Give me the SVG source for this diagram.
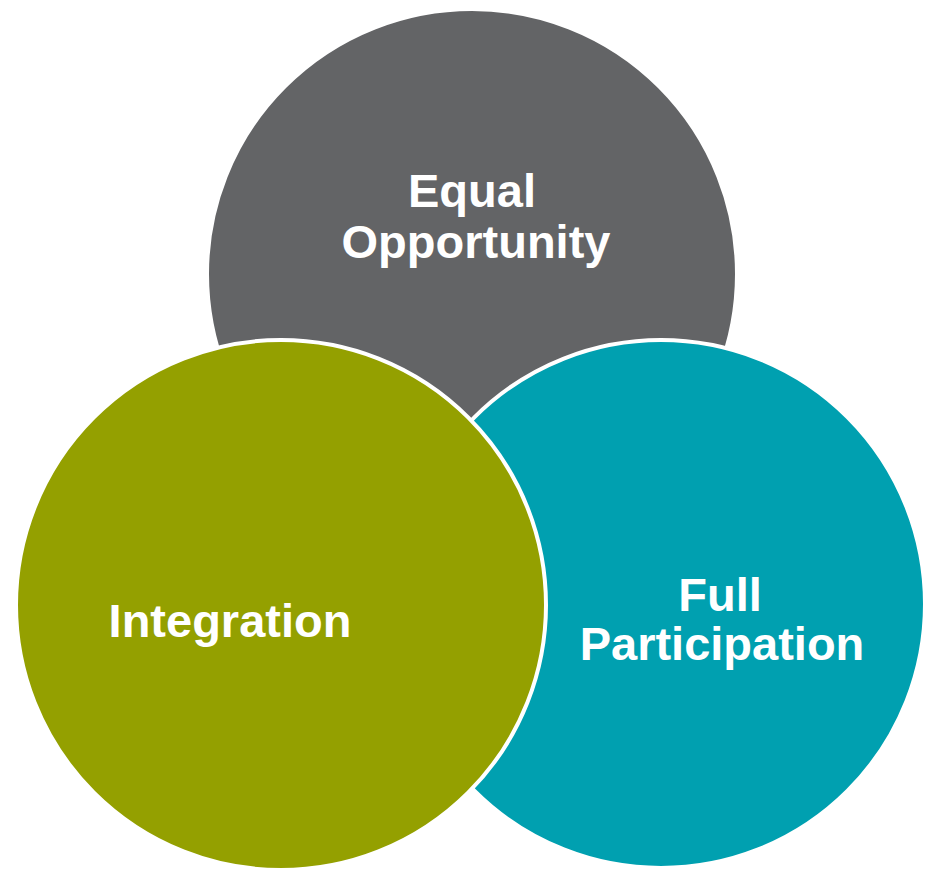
<svg xmlns="http://www.w3.org/2000/svg" width="925" height="870" viewBox="0 0 925 870">
  <style>
    .ring { stroke: #ffffff; stroke-width: 4; }
    .label { font-family: "Liberation Sans", Arial, sans-serif; font-weight: bold; font-size: 47px; fill: #ffffff; text-anchor: middle; }
  </style>
  <rect width="925" height="870" fill="#ffffff"/>
  <g id="equal-opportunity">
    <circle class="ring" cx="472" cy="274" r="265" fill="#636466"/>
    <text class="label" x="472" y="207">Equal</text>
    <text class="label" x="476" y="258">Opportunity</text>
  </g>
  <g id="full-participation">
    <circle class="ring" cx="661" cy="604" r="264" fill="#00A0B0"/>
    <text class="label" x="720" y="611">Full</text>
    <text class="label" x="722" y="660">Participation</text>
  </g>
  <g id="integration">
    <circle class="ring" cx="281" cy="605" r="265" fill="#94A000"/>
    <text class="label" x="230" y="637">Integration</text>
  </g>
  <g id="connectors"/>
</svg>
